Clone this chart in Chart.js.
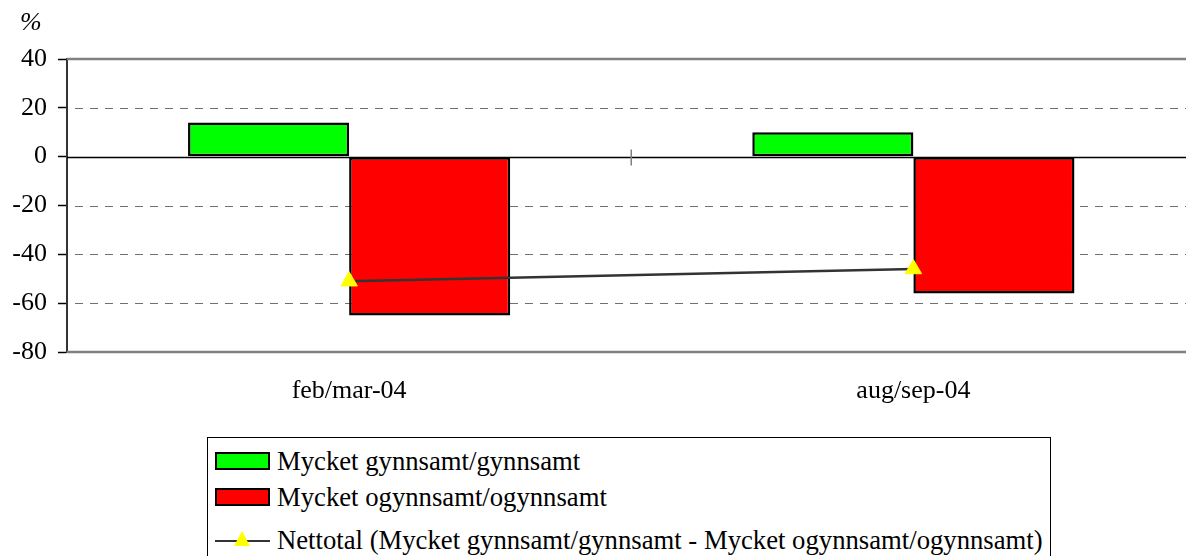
<!DOCTYPE html>
<html>
<head>
<meta charset="utf-8">
<script src="https://cdn.jsdelivr.net/npm/chart.js@4.4.1/dist/chart.umd.min.js"></script>
<style>
  html, body { margin:0; padding:0; background:#fff; overflow:hidden; width:1186px; height:556px; }
  #wrap { position:relative; width:1206px; height:556px; }
  #c { position:absolute; left:0; top:0; }
  .txt { position:absolute; font-family:"Liberation Serif","Times New Roman",serif; color:#000; white-space:nowrap; }
  #legend { position:absolute; left:207px; top:437px; width:844px; height:130px; border:1px solid #000; background:#fff; box-sizing:border-box; }
  .row { position:absolute; left:0; height:30px; }
  .sw { position:absolute; left:7px; width:51px; height:14px; border:2px solid #000; }
  .lbl { position:absolute; left:69px; font-family:"Liberation Serif","Times New Roman",serif; font-size:26.7px; line-height:30px; top:0; white-space:nowrap; }
  .ln { position:absolute; left:7px; top:15px; width:55px; height:2px; background:#333; }
  .tri { position:absolute; left:26px; top:6px; width:0; height:0; border-left:8px solid transparent; border-right:8px solid transparent; border-bottom:15px solid #ffff00; }
</style>
</head>
<body>
<div id="wrap">
  <canvas id="c" width="1206" height="556"></canvas>
  <div class="txt" style="left:20px; top:7px; font-size:26px; font-style:italic;">%</div>
  <div id="legend"></div>
</div>
<script>
const categories = ["feb/mar-04", "aug/sep-04"];
const seriesNames = [
  "Mycket gynnsamt/gynnsamt",
  "Mycket ogynnsamt/ogynnsamt",
  "Nettotal (Mycket gynnsamt/gynnsamt - Mycket ogynnsamt/ogynnsamt)"
];
const favourable = [14, 10];
const unfavourable = [-65, -56];
const netTotal = [-51, -46];
const yTicks = [40, 20, 0, -20, -40, -60, -80];

const FONT = '"Liberation Serif","Times New Roman",serif';

const gridPlugin = {
  id: 'gridPlugin',
  beforeDatasetsDraw(chart) {
    const ctx = chart.ctx, a = chart.chartArea, y = chart.scales.y, x = chart.scales.x;
    ctx.save();
    yTicks.forEach(v => {
      const py = Math.round(y.getPixelForValue(v));
      if (v === 0) return;
      ctx.beginPath();
      if (v === 40 || v === -80) {
        ctx.setLineDash([]); ctx.strokeStyle = '#808080'; ctx.lineWidth = 2.5;
        ctx.moveTo(a.left, py); ctx.lineTo(a.right, py); ctx.stroke();
      } else {
        ctx.setLineDash([8, 7]); ctx.strokeStyle = '#707070'; ctx.lineWidth = 1;
        ctx.moveTo(a.left + 8, py + 0.5); ctx.lineTo(a.right, py + 0.5); ctx.stroke();
      }
    });
    const p0 = Math.round(y.getPixelForValue(0)) + 0.5;
    ctx.setLineDash([]); ctx.strokeStyle = '#000'; ctx.lineWidth = 1.5;
    ctx.beginPath(); ctx.moveTo(a.left, p0); ctx.lineTo(a.right, p0); ctx.stroke();
    const mid = (x.getPixelForValue(0) + x.getPixelForValue(1)) / 2;
    ctx.strokeStyle = '#808080'; ctx.lineWidth = 1.5;
    ctx.beginPath(); ctx.moveTo(mid, p0 - 8); ctx.lineTo(mid, p0 + 8); ctx.stroke();
    ctx.restore();
  }
};

new Chart(document.getElementById('c'), {
  data: {
    labels: categories,
    datasets: [
      { type: 'line', label: seriesNames[2], data: netTotal, order: 0,
        borderColor: '#333333', borderWidth: 2.5, pointStyle: 'triangle',
        pointRadius: 9.5, pointBackgroundColor: '#ffff00', pointBorderColor: '#ffff00', pointBorderWidth: 1 },
      { type: 'bar', label: seriesNames[0], data: favourable, order: 1,
        backgroundColor: '#00ff00', borderColor: '#000', borderWidth: 2.5, borderSkipped: false,
        categoryPercentage: 0.571, barPercentage: 1.0 },
      { type: 'bar', label: seriesNames[1], data: unfavourable, order: 1,
        backgroundColor: '#ff0000', borderColor: '#000', borderWidth: 2.5, borderSkipped: false,
        categoryPercentage: 0.571, barPercentage: 1.0 }
    ]
  },
  options: {
    responsive: false, animation: false, devicePixelRatio: 1,
    layout: { padding: { top: 59, left: 0, right: 0, bottom: 124 } },
    plugins: { legend: { display: false }, tooltip: { enabled: false } },
    scales: {
      x: {
        offset: true,
        grid: { display: false },
        border: { display: false },
        ticks: { color: '#000', font: { family: FONT, size: 26 }, padding: 16 },
        afterFit: s => { s.height = 80; }
      },
      y: {
        min: -80, max: 40,
        afterBuildTicks: s => { s.ticks = yTicks.map(v => ({ value: v })); },
        grid: { drawOnChartArea: false, drawTicks: true, tickLength: 9, tickColor: '#000', tickWidth: 1.5 },
        border: { display: true, color: '#333', width: 2 },
        ticks: { color: '#000', font: { family: FONT, size: 26 }, padding: 11 },
        afterFit: s => { s.width = 67; }
      }
    }
  },
  plugins: [gridPlugin]
});

const legend = document.getElementById('legend');
const rowsTop = [8, 44, 87];
seriesNames.forEach((name, i) => {
  const row = document.createElement('div');
  row.className = 'row';
  row.style.top = rowsTop[i] + 'px';
  if (i < 2) {
    const sw = document.createElement('div');
    sw.className = 'sw';
    sw.style.top = '6px';
    sw.style.background = i === 0 ? '#00ff00' : '#ff0000';
    row.appendChild(sw);
  } else {
    const ln = document.createElement('div'); ln.className = 'ln'; row.appendChild(ln);
    const tri = document.createElement('div'); tri.className = 'tri'; row.appendChild(tri);
  }
  const lbl = document.createElement('div');
  lbl.className = 'lbl';
  lbl.textContent = name;
  row.appendChild(lbl);
  legend.appendChild(row);
});
</script>
</body>
</html>
